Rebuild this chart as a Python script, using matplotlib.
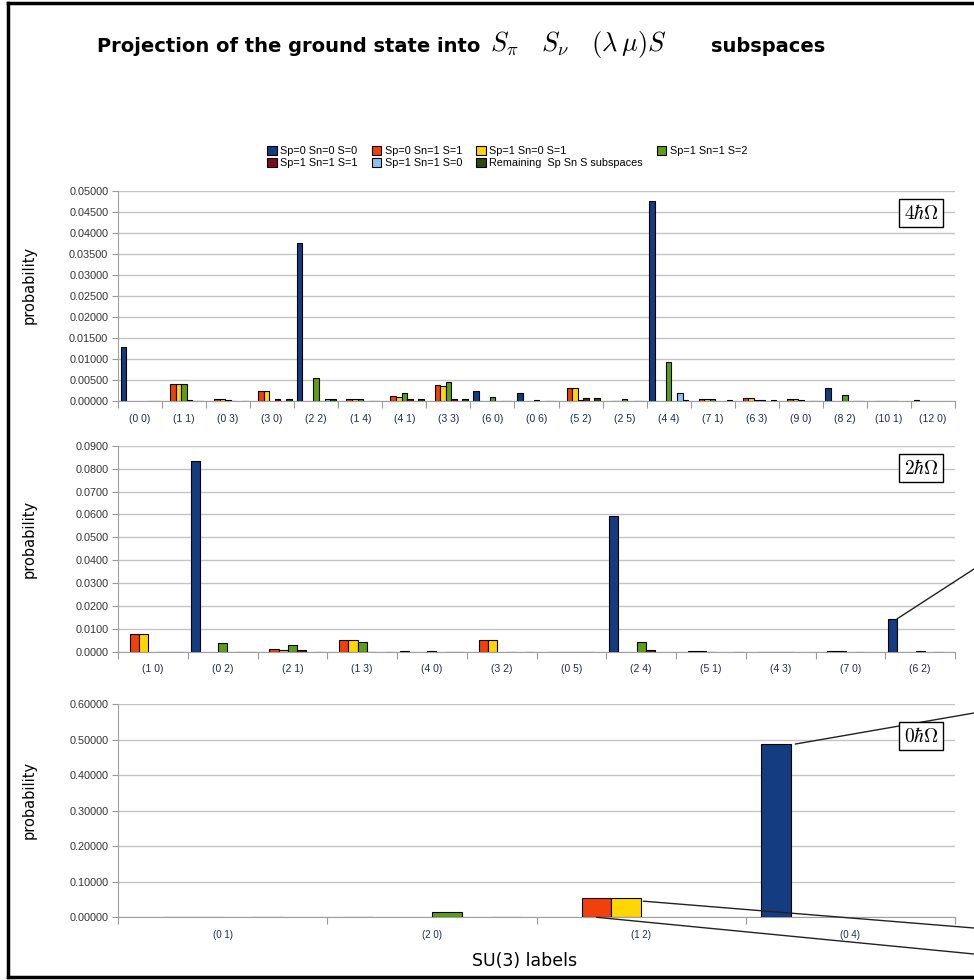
import numpy as np
import matplotlib
matplotlib.use('Agg')
import matplotlib.pyplot as plt
from matplotlib.patches import Patch
from matplotlib.lines import Line2D
from matplotlib.ticker import FormatStrFormatter, FixedLocator

plt.rcParams['font.family'] = ['Liberation Sans', 'DejaVu Sans']
plt.rcParams['mathtext.fontset'] = 'cm'

nan = np.nan

# series names and colours
series_names = ['Sp=0 Sn=0 S=0', 'Sp=0 Sn=1 S=1', 'Sp=1 Sn=0 S=1', 'Sp=1 Sn=1 S=2',
                'Sp=1 Sn=1 S=1', 'Sp=1 Sn=1 S=0', 'Remaining  Sp Sn S subspaces']
series_colors = ['#133d80', '#f2400c', '#ffd600', '#5e9e12', '#7a0d25', '#8ec3ef', '#2d4a0c']

# 4 hbar omega
labels_4 = ['(0 0)', '(1 1)', '(0 3)', '(3 0)', '(2 2)', '(1 4)', '(4 1)', '(3 3)', '(6 0)', '(0 6)',
            '(5 2)', '(2 5)', '(4 4)', '(7 1)', '(6 3)', '(9 0)', '(8 2)', '(10 1)', '(12 0)']
p4_000 = [0.0128, nan, nan, nan, 0.0375, nan, nan, nan, 0.0023, 0.0020, nan, nan, 0.0475, nan, nan, nan, 0.0030, nan, 0.0003]
p4_011 = [nan, 0.0040, 0.0004, 0.0023, nan, 0.0004, 0.0012, 0.0037, nan, nan, 0.0031, 0.0001, nan, 0.0005, 0.0008, 0.0005, nan, 0.0001, nan]
p4_101 = [nan, 0.0040, 0.0004, 0.0023, nan, 0.0004, 0.0010, 0.0036, nan, nan, 0.0031, 0.0001, nan, 0.0005, 0.0008, 0.0005, nan, 0.0001, nan]
p4_112 = [nan, 0.0040, 0.0003, nan, 0.0055, 0.0004, 0.0019, 0.0045, 0.0009, 0.0002, 0.0003, 0.0004, 0.0093, 0.0005, 0.0002, 0.0002, 0.0014, 0.0001, nan]
p4_111 = [nan, 0.0002, 0.0001, 0.0005, nan, nan, 0.0005, 0.0005, nan, nan, 0.0007, nan, nan, nan, 0.0002, nan, nan, 0.0001, nan]
p4_110 = [0.0001, 0.0001, nan, nan, 0.0005, 0.0001, nan, nan, 0.0001, 0.0001, nan, 0.0001, 0.0020, nan, nan, 0.0001, 0.0001, nan, nan]
p4_rest = [0.0001, 0.0001, 0.0001, 0.0005, 0.0005, 0.0001, 0.0005, 0.0005, 0.0001, 0.0001, 0.0008, 0.0001, 0.0002, 0.0002, 0.0002, 0.0001, 0.0001, nan, nan]

# 2 hbar omega
labels_2 = ['(1 0)', '(0 2)', '(2 1)', '(1 3)', '(4 0)', '(3 2)', '(0 5)', '(2 4)', '(5 1)', '(4 3)', '(7 0)', '(6 2)']
p2_000 = [nan, 0.0833, nan, nan, 0.0005, nan, nan, 0.0595, nan, nan, nan, 0.0145]
p2_011 = [0.0078, nan, 0.0015, 0.0052, nan, 0.0052, 0.0002, nan, 0.0005, 0.0002, 0.0005, nan]
p2_101 = [0.0078, nan, 0.0010, 0.0052, nan, 0.0052, 0.0002, nan, 0.0005, 0.0002, 0.0005, nan]
p2_112 = [nan, 0.0040, 0.0030, 0.0043, 0.0005, nan, 0.0002, 0.0045, 0.0002, 0.0002, nan, 0.0005]
p2_111 = [0.0002, nan, 0.0007, 0.0001, nan, 0.0001, 0.0002, 0.0007, nan, 0.0002, 0.0002, nan]
p2_110 = [0.0001, 0.0001, nan, nan, 0.0001, nan, 0.0002, nan, nan, nan, nan, 0.0002]
p2_rest = [0.0001, 0.0001, 0.0002, 0.0001, 0.0001, 0.0002, nan, nan, 0.0002, nan, nan, nan]

# 0 hbar omega
labels_0 = ['(0 1)', '(2 0)', '(1 2)', '(0 4)']
p0_000 = [nan, 0.0, nan, 0.488]
p0_011 = [0.0, nan, 0.0535, nan]
p0_101 = [0.0, nan, 0.0535, nan]
p0_112 = [nan, 0.016, nan, nan]
p0_111 = [0.0, nan, nan, nan]
p0_110 = [nan, 0.0, nan, nan]

W, H = 974, 980
fig = plt.figure(figsize=(W / 100, H / 100), dpi=100)


def fx(px):
    return px / W


def fy(py):
    return 1 - py / H


def bar_panel(rect, labels, groups, group_w, ymax, ystep, fmt, tag, tag_y, xlab_size=7.5):
    ax = fig.add_axes(rect)
    n = len(groups)
    w = group_w / n
    x = np.arange(len(labels))
    for k, vals in enumerate(groups):
        v = np.array(vals, dtype=float)
        ok = ~np.isnan(v)
        xs = x - group_w / 2 + w * (k + 0.5)
        ax.bar(xs[ok], v[ok], width=w, color=series_colors[k], edgecolor='black',
               linewidth=0.8, zorder=3)
    ax.set_xlim(-0.5, len(labels) - 0.5)
    ax.set_ylim(0, ymax)
    ax.set_yticks(np.arange(0, ymax + ystep / 2, ystep))
    ax.yaxis.set_major_formatter(FormatStrFormatter(fmt))
    ax.grid(axis='y', color='#c4c4c4', linewidth=1, zorder=0)
    ax.xaxis.set_major_locator(FixedLocator(np.arange(len(labels) + 1) - 0.5))
    ax.xaxis.set_minor_locator(FixedLocator(x))
    ax.set_xticklabels([], minor=False)
    ax.set_xticklabels(labels, minor=True)
    ax.tick_params(axis='x', which='major', length=5, color='#9a9a9a', direction='out')
    ax.tick_params(axis='x', which='minor', length=0, pad=9, labelsize=xlab_size, labelcolor='#1e2a55')
    ax.tick_params(axis='y', length=4, color='#9a9a9a', labelsize=7.8, labelcolor='#333333', pad=3)
    for s in ['top', 'right']:
        ax.spines[s].set_visible(False)
    for s in ['left', 'bottom']:
        ax.spines[s].set_color('#a0a0a0')
    ax.set_ylabel('probability', fontsize=10.5, family='DejaVu Sans')
    ax.yaxis.set_label_coords(fx(37 - rect[0] * W) / rect[2], 0.55)
    fig.text(fx(921), fy(tag_y), tag, fontsize=14, ha='center', va='center',
             bbox=dict(boxstyle='square,pad=0.25', fc='white', ec='black', lw=1))
    return ax, w


ax4, w4 = bar_panel([fx(118), fy(401), fx(837), (401 - 190.5) / H], labels_4,
                    [p4_000, p4_011, p4_101, p4_112, p4_111, p4_110, p4_rest],
                    0.88, 0.05, 0.005, '%.5f', r'$4\hbar\Omega$', 213)
ax2, w2 = bar_panel([fx(118), fy(652), fx(837), (652 - 445.7) / H], labels_2,
                    [p2_000, p2_011, p2_101, p2_112, p2_111, p2_110, p2_rest],
                    0.92, 0.09, 0.01, '%.4f', r'$2\hbar\Omega$', 468)
ax0, w0 = bar_panel([fx(118), fy(917.3), fx(837), (917.3 - 704.3) / H], labels_0,
                    [p0_000, p0_011, p0_101, p0_112, p0_111, p0_110],
                    0.85, 0.6, 0.1, '%.5f', r'$0\hbar\Omega$', 736, xlab_size=7)
ax0.set_xlabel('SU(3) labels', fontsize=12.5, family='DejaVu Sans')
ax0.xaxis.set_label_coords((fx(525) - fx(118)) / fx(837), -0.165)

# leader lines running off to the right edge
line_kw = dict(arrowstyle='-', color='#222222', lw=1, shrinkA=0, shrinkB=0)
ax2.annotate('', xy=(11 - 0.46 + w2, p2_000[11]), xycoords='data',
             xytext=(1.0, fy(569)), textcoords='figure fraction',
             arrowprops=line_kw, annotation_clip=False)
ax0.annotate('', xy=(3 - 0.425 + w0 + 0.02, p0_000[3]), xycoords='data',
             xytext=(1.0, fy(713)), textcoords='figure fraction',
             arrowprops=line_kw, annotation_clip=False)
ax0.annotate('', xy=(2 - 0.425 + 3 * w0 + 0.01, p0_101[2] * 0.85), xycoords='data',
             xytext=(1.0, fy(928)), textcoords='figure fraction',
             arrowprops=line_kw, annotation_clip=False)
ax0.annotate('', xy=(2 - 0.425 + 1.5 * w0, 0.0), xycoords='data',
             xytext=(1.0, fy(954)), textcoords='figure fraction',
             arrowprops=line_kw, annotation_clip=False)

# legend, filled row by row
handles = [Patch(facecolor=c, edgecolor='black', linewidth=0.8, label=n)
           for n, c in zip(series_names, series_colors)]
order = [0, 4, 1, 5, 2, 6, 3]
fig.legend(handles=[handles[i] for i in order], ncol=4, loc='center',
           bbox_to_anchor=(fx(507), fy(157)), frameon=False, fontsize=7.8,
           handlelength=0.9, handleheight=0.9, handletextpad=0.3,
           columnspacing=1.3, labelspacing=0.15)

# title in three pieces so the symbols can be larger
fig.text(fx(97), fy(47), 'Projection of the ground state into', fontsize=14,
         fontweight='bold', family='DejaVu Sans', ha='left', va='center')
fig.text(fx(490), fy(45), r'$S_\pi\quad S_\nu\quad (\lambda\,\mu)S$', fontsize=19,
         ha='left', va='center')
fig.text(fx(711), fy(47), 'subspaces', fontsize=14,
         fontweight='bold', family='DejaVu Sans', ha='left', va='center')

# outer frame
for xs, ys in [([fx(8), fx(8)], [fy(3), fy(977)]),
               ([fx(8), 1.0], [fy(3), fy(3)]),
               ([fx(8), 1.0], [fy(977), fy(977)])]:
    fig.add_artist(Line2D(xs, ys, color='black', lw=2.5))

fig.savefig('out.png', dpi=100)
